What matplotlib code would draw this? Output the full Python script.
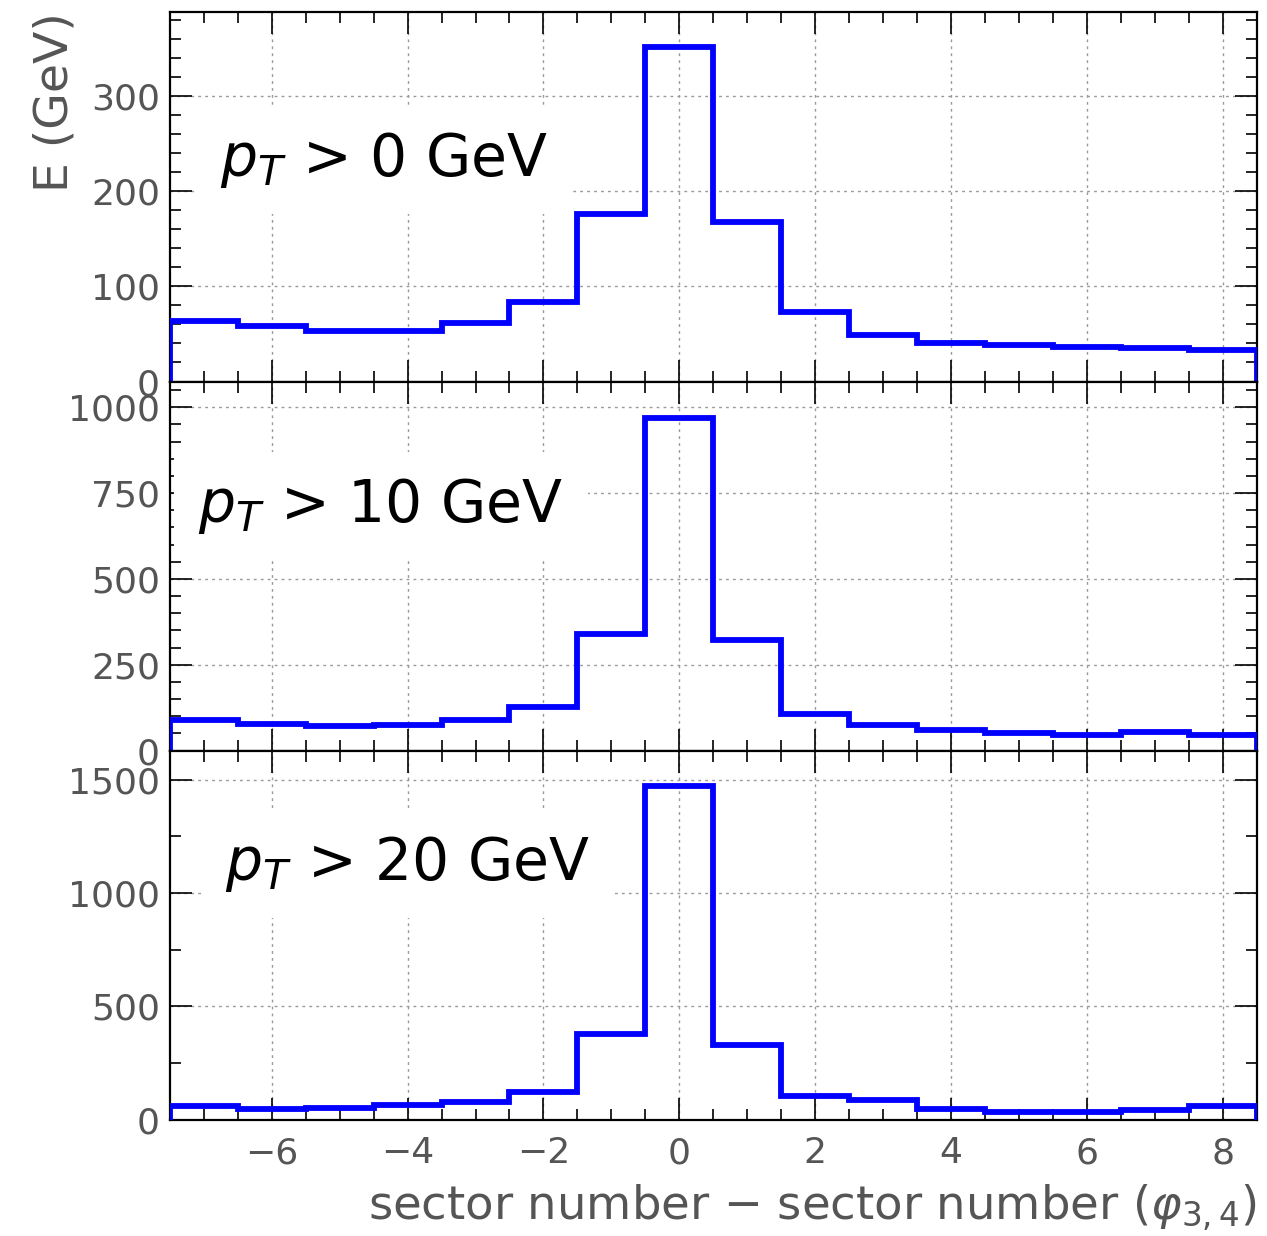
import numpy as np
import matplotlib.pyplot as plt
from matplotlib.ticker import MultipleLocator

# sector offset (bin centres) and energy per bin
sector = [-7, -6, -5, -4, -3, -2, -1, 0, 1, 2, 3, 4, 5, 6, 7, 8]
e_pt0 = [64, 58, 53, 53, 61, 84, 176, 352, 168, 73, 49, 41, 38, 36, 35, 33]
e_pt10 = [90, 78, 71, 74, 90, 126, 340, 970, 323, 107, 74, 59, 51, 46, 55, 46]
e_pt20 = [62, 47, 52, 65, 77, 122, 380, 1472, 332, 103, 86, 49, 34, 34, 44, 62]
labels = [r'$p_{T}$ > 0 GeV', r'$p_{T}$ > 10 GeV', r'$p_{T}$ > 20 GeV']

edges = np.append(np.array(sector) - 0.5, sector[-1] + 0.5)

gray = '#555555'
fig, axes = plt.subplots(3, 1, figsize=(12.67, 12.36), dpi=100, sharex=True)
fig.subplots_adjust(left=0.134, right=0.992, top=0.990, bottom=0.094, hspace=0)

ylims = [388, 1075, 1628]
ymaj = [100, 250, 500]
ymin = [20, 50, 250]
txt_pos = [(0.046, 0.558), (0.026, 0.619), (0.051, 0.650)]

for ax, vals, lab, yl, ma, mi, tp in zip(axes, [e_pt0, e_pt10, e_pt20], labels,
                                         ylims, ymaj, ymin, txt_pos):
    ax.stairs(vals, edges, color='#0000ff', lw=4.2, baseline=0, zorder=4)
    ax.set_xlim(edges[0], edges[-1])
    ax.set_ylim(0, yl)
    ax.xaxis.set_major_locator(MultipleLocator(2))
    ax.xaxis.set_minor_locator(MultipleLocator(0.5))
    ax.yaxis.set_major_locator(MultipleLocator(ma))
    ax.yaxis.set_minor_locator(MultipleLocator(mi))
    ax.tick_params(which='both', direction='in', top=True, right=True,
                   colors='black', labelcolor=gray, labelsize=26, width=1.2)
    ax.tick_params(which='major', length=16)
    ax.tick_params(which='minor', length=8)
    ax.tick_params(axis='y', pad=7)
    ax.tick_params(axis='x', pad=12)
    ax.grid(True, which='major', color='#999999', linestyle=(0, (2, 3)), lw=1)
    for s in ax.spines.values():
        s.set_linewidth(1.6)
    ax.text(tp[0], tp[1], lab, transform=ax.transAxes, fontsize=42,
            va='baseline', ha='left', zorder=5,
            bbox=dict(boxstyle='square,pad=0.42', facecolor='white', edgecolor='none'))

axes[0].set_ylabel('E (GeV)', fontsize=34, color=gray, loc='top', labelpad=10)
axes[-1].set_xlabel(r'sector number $-$ sector number ($\varphi_{3,4}$)',
                    fontsize=33.5, color=gray, loc='right', labelpad=8)

fig.savefig('out.png', dpi=100)
